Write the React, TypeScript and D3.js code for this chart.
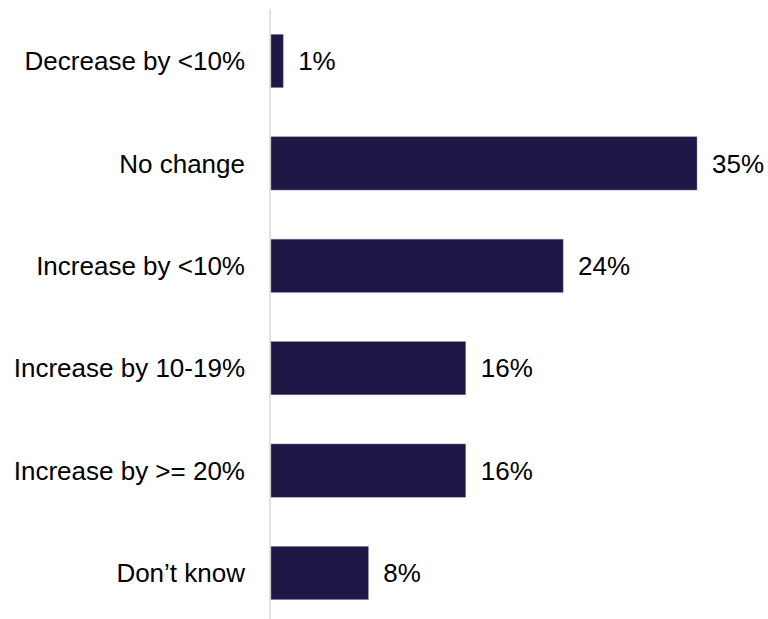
import React from "react";
import * as d3 from "d3";

const categories = [
  "Decrease by <10%",
  "No change",
  "Increase by <10%",
  "Increase by 10-19%",
  "Increase by >= 20%",
  "Don\u2019t know",
];
const values = [1, 35, 24, 16, 16, 8];
const valueLabels = ["1%", "35%", "24%", "16%", "16%", "8%"];

const W = 768;
const H = 619;

export default function App() {
  const x = d3.scaleLinear().domain([0, 35]).range([271, 697]);
  const y = d3
    .scaleBand<string>()
    .domain(categories)
    .range([9.8, 624.2])
    .paddingInner(0.48)
    .paddingOuter(0.24);
  const bw = y.bandwidth();
  const font = "'Liberation Sans', Arial, sans-serif";
  return (
    <svg
      width={W}
      height={H}
      style={{ position: "fixed", left: 0, top: 0, background: "#fff" }}
      fontFamily={font}
    >
      <line x1={270} x2={270} y1={9} y2={H} stroke="#d9d9d9" strokeWidth={1.5} />
      {categories.map((c, i) => {
        const yy = y(c)!;
        const cy = yy + bw / 2;
        return (
          <g key={c}>
            <rect
              x={x(0)}
              y={yy}
              width={x(values[i]) - x(0)}
              height={bw}
              fill="#1f1646"
              stroke="#8b86a8"
              strokeWidth={0.5}
            />
            <text
              x={245}
              y={cy}
              dy="0.35em"
              textAnchor="end"
              fontSize={26}
              fill="#000"
            >
              {c}
            </text>
            <text x={x(values[i]) + 15} y={cy} dy="0.35em" fontSize={26} fill="#000">
              {valueLabels[i]}
            </text>
          </g>
        );
      })}
    </svg>
  );
}
